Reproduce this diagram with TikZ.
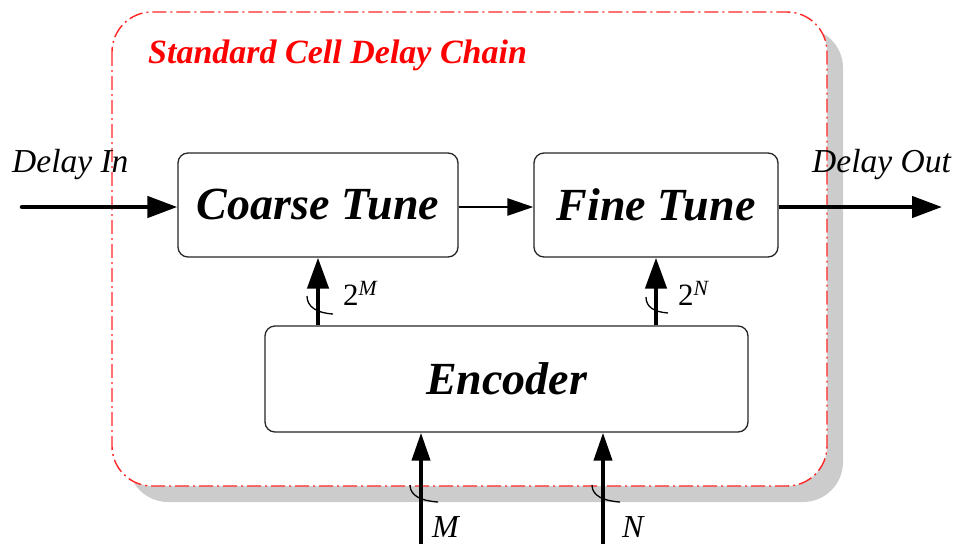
\documentclass[tikz,border=0pt]{standalone}
\usepackage{fontspec}
\setmainfont{Liberation Serif}
\usetikzlibrary{arrows.meta,calc}

\tikzset{
  block/.style={draw=black!85, line width=1.3pt, rounded corners=10pt, fill=white,
    inner sep=0pt, font=\fontsize{46}{50}\selectfont\bfseries\itshape},
  sig/.style={line width=4.5pt, line cap=round,
    -{Triangle[length=30pt,width=21pt]}},
  thinsig/.style={line width=2.6pt, -{Triangle[length=26pt,width=17pt]}},
  bus/.style={line width=4.5pt, -{Triangle[length=31pt,width=21pt]}},
  inbus/.style={line width=4pt, -{Triangle[length=28pt,width=18pt]}},
  busmark/.style={line width=1.3pt},
  lbl/.style={inner sep=0pt, font=\fontsize{33.5}{36}\selectfont\itshape},
  buslbl/.style={inner sep=0pt, font=\fontsize{31}{34}\selectfont},
}

\begin{document}
\begin{tikzpicture}[x=1pt,y=-1pt]
\useasboundingbox (0,0) rectangle (961,544);

% chain outline with its drop shadow
\fill[black!20, rounded corners=40pt] (128,28) rectangle (843,502);
\draw[red!85, line width=1.4pt, fill=white, rounded corners=40pt,
      dash pattern=on 14pt off 4pt on 2pt off 4pt] (112,12) rectangle (827,486);
\node[anchor=base west, inner sep=0pt, text=red,
      font=\fontsize{34}{36}\selectfont\bfseries\itshape] (title) at (148,63)
      {Standard Cell Delay Chain};

% blocks
\node[block, minimum width=280pt, minimum height=104pt] (coarse) at (318,205) {Coarse Tune};
\node[block, minimum width=244pt, minimum height=104pt] (fine) at (656,205) {Fine Tune};
\node[block, minimum width=483pt, minimum height=106pt] (enc) at (506.5,379) {Encoder};

% delay path
\coordinate (din) at (22,207);
\coordinate (dout) at (942,207);
\draw[sig] (din) -- (din -| coarse.west);
\draw[thinsig] (coarse.east |- din) -- (fine.west |- din);
\draw[sig, line cap=butt] (fine.east |- dout) -- (dout);
\node[lbl, anchor=base west] (dinl) at (12,172) {Delay In};
\node[lbl, anchor=base west] (doutl) at (812,172) {Delay Out};

% encoder outputs
\draw[bus] (enc.north -| coarse.south) -- (coarse.south);
\draw[bus] (enc.north -| fine.south) -- (fine.south);
\coordinate (tm) at (319,305);
\coordinate (tn) at (656,305);
\draw[busmark] ($(tm)+(-12,-9)$) .. controls +(0,11) and +(-16,-1) .. ($(tm)+(14,9)$);
\draw[busmark] ($(tn)+(-10,-8)$) .. controls +(0,10) and +(-14,-1) .. ($(tn)+(12,8)$);
\node[buslbl, anchor=base west] (lm) at (343,305) {2\textsuperscript{\itshape M}};
\node[buslbl, anchor=base west] (ln) at (678,305) {2\textsuperscript{\itshape N}};

% encoder inputs
\coordinate (im) at (421,544);
\coordinate (in) at (603,544);
\draw[inbus] (im) -- (im |- enc.south);
\draw[inbus] (in) -- (in |- enc.south);
\coordinate (bm) at (421,494);
\coordinate (bn) at (603,494);
\draw[busmark] ($(bm)+(-11,-9)$) .. controls +(0,11) and +(-16,-1) .. ($(bm)+(17,8)$);
\draw[busmark] ($(bn)+(-11,-9)$) .. controls +(0,11) and +(-16,-1) .. ($(bn)+(17,8)$);
\node[buslbl, anchor=base west, font=\fontsize{32}{34}\selectfont\itshape] (lbm) at (432,537) {M};
\node[buslbl, anchor=base west, font=\fontsize{32}{34}\selectfont\itshape] (lbn) at (622,537) {N};
\end{tikzpicture}
\end{document}
